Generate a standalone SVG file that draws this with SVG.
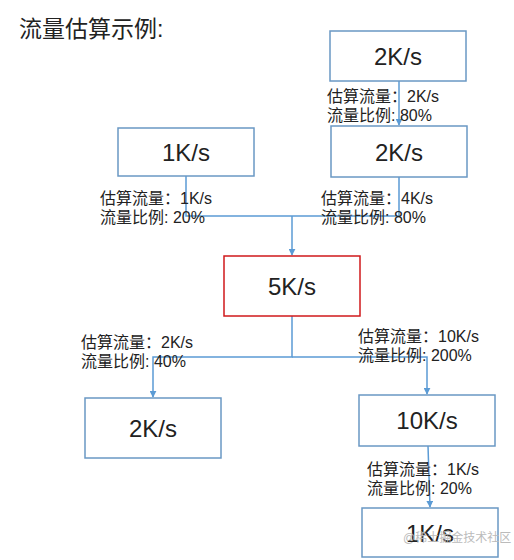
<svg xmlns="http://www.w3.org/2000/svg" width="514" height="560" viewBox="0 0 514 560">
<style>
text{font-family:"Liberation Sans","Noto Sans CJK SC",sans-serif;fill:#222}
.box{fill:#fff;stroke:#6a98c4;stroke-width:1.5}
.red{fill:#fff;stroke:#d0191b;stroke-width:1.5}
.val{font-size:24px;text-anchor:middle}
.lbl{font-size:16px}
.ln{fill:none;stroke:#5b9bd5;stroke-width:1.5}
</style>
<defs>
<marker id="ah" viewBox="0 0 10 10" refX="9" refY="5" markerWidth="7" markerHeight="7" markerUnits="userSpaceOnUse" orient="auto">
<path d="M0,0 L10,5 L0,10 z" fill="#5b9bd5"/>
</marker>
</defs>
<rect width="514" height="560" fill="#fff"/>
<text x="19" y="37" style="font-size:23px">流量估算示例:</text>
<g id="connectors">
<path class="ln" d="M399,81 V125" marker-end="url(#ah)"/>
<path class="ln" d="M186,176 V216 H399 V177"/>
<path class="ln" d="M292,216 V255" marker-end="url(#ah)"/>
<path class="ln" d="M292,316 V357 H153 V397" marker-end="url(#ah)"/>
<path class="ln" d="M292,357 H427 V394" marker-end="url(#ah)"/>
<path class="ln" d="M428,446 L430,507" marker-end="url(#ah)"/>
</g>
<g id="labels">
<text class="lbl" x="327" y="102">估算流量：2K/s</text>
<text class="lbl" x="327" y="121">流量比例: 80%</text>
<text class="lbl" x="100" y="204">估算流量：1K/s</text>
<text class="lbl" x="100" y="223">流量比例: 20%</text>
<text class="lbl" x="321" y="204">估算流量：4K/s</text>
<text class="lbl" x="321" y="223">流量比例: 80%</text>
<text class="lbl" x="81" y="348">估算流量：2K/s</text>
<text class="lbl" x="81" y="367">流量比例: 40%</text>
<text class="lbl" x="358" y="342">估算流量：10K/s</text>
<text class="lbl" x="358" y="361">流量比例: 200%</text>
<text class="lbl" x="367" y="475">估算流量：1K/s</text>
<text class="lbl" x="367" y="494">流量比例: 20%</text>
</g>
<g id="nodeA"><rect class="box" x="330" y="31" width="136" height="50"/><text class="val" x="398" y="65">2K/s</text></g>
<g id="nodeB"><rect class="box" x="118" y="128" width="136" height="48"/><text class="val" x="186" y="161">1K/s</text></g>
<g id="nodeC"><rect class="box" x="331" y="126" width="136" height="51"/><text class="val" x="399" y="161">2K/s</text></g>
<g id="nodeD"><rect class="red" x="224" y="256" width="136" height="60"/><text class="val" x="292" y="295">5K/s</text></g>
<g id="nodeE"><rect class="box" x="85" y="398" width="136" height="60"/><text class="val" x="153" y="437">2K/s</text></g>
<g id="nodeF"><rect class="box" x="359" y="395" width="136" height="51"/><text class="val" x="427" y="429">10K/s</text></g>
<g id="nodeG"><rect class="box" x="362" y="508" width="136" height="49"/><text class="val" x="430" y="542">1K/s</text></g>
<text x="403" y="542" style="font-size:12px;fill:#bbb">@稀土掘金技术社区</text>
</svg>
